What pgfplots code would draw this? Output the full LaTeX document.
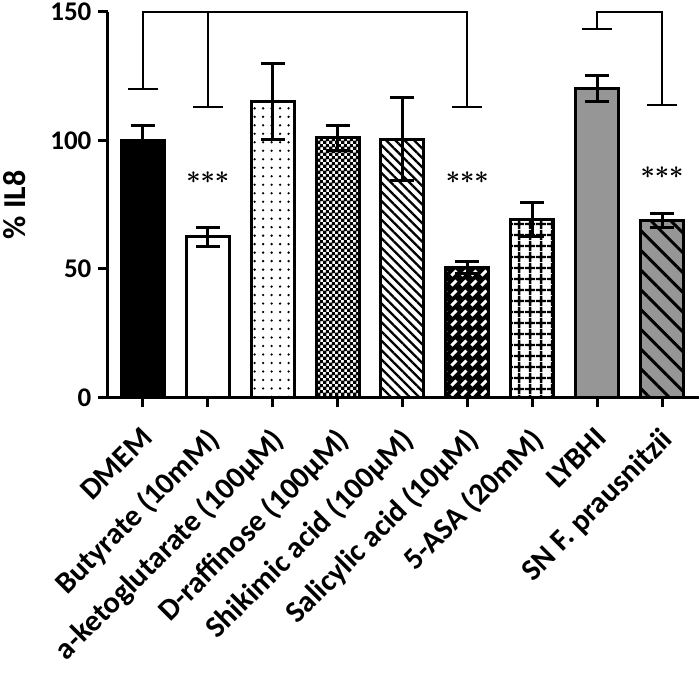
\documentclass[border=0pt]{standalone}
\usepackage{fontspec}
\setmainfont{Carlito}
\usepackage{pgfplots}
\pgfplotsset{compat=1.18}
\usetikzlibrary{patterns,patterns.meta}

\definecolor{barGray}{RGB}{150,150,150}

% small checkerboard for D-raffinose
\pgfdeclarepatternformonly{fineChecker}{\pgfqpoint{0pt}{0pt}}{\pgfqpoint{6pt}{6pt}}{\pgfqpoint{6pt}{6pt}}{%
  \pgfpathrectangle{\pgfqpoint{0pt}{0pt}}{\pgfqpoint{3.3pt}{3.3pt}}%
  \pgfpathrectangle{\pgfqpoint{3pt}{3pt}}{\pgfqpoint{3.3pt}{3.3pt}}%
  \pgfusepath{fill}}
% open grid for 5-ASA
\pgfdeclarepatternformonly{wideGrid}{\pgfqpoint{0pt}{0pt}}{\pgfqpoint{10.5pt}{10.5pt}}{\pgfqpoint{10.5pt}{10.5pt}}{%
  \pgfsetlinewidth{2.5pt}%
  \pgfpathmoveto{\pgfqpoint{5.25pt}{0pt}}\pgfpathlineto{\pgfqpoint{5.25pt}{10.5pt}}%
  \pgfpathmoveto{\pgfqpoint{0pt}{5.25pt}}\pgfpathlineto{\pgfqpoint{10.5pt}{5.25pt}}%
  \pgfusepath{stroke}}
% short diagonal dashes for salicylic acid
\pgfdeclarepatternformonly{diagDash}{\pgfqpoint{0pt}{0pt}}{\pgfqpoint{10pt}{10pt}}{\pgfqpoint{10pt}{10pt}}{%
  \pgfsetlinewidth{3pt}%
  \pgfpathmoveto{\pgfqpoint{2.5pt}{2.5pt}}\pgfpathlineto{\pgfqpoint{7.5pt}{7.5pt}}%
  \pgfusepath{stroke}}

\pgfplotsset{
  igbar/.style={ybar, bar width=43pt, bar shift=0pt, draw=black, line width=3pt,
    error bars/y dir=both, error bars/y explicit,
    error bars/error bar style={line width=3pt, black},
    error bars/error mark options={rotate=90, mark size=12pt, line width=3pt, black}},
}

\newcommand{\stars}{\fontsize{25}{28}\selectfont\boldmath}

\begin{document}
\begin{tikzpicture}
\begin{axis}[
    name=ax,
    scale only axis,
    width=592pt, height=386pt,
    xmin=-0.54, xmax=8.57,
    ymin=0, ymax=150,
    axis x line*=bottom, axis y line*=left,
    axis line style={line width=3pt},
    every tick/.style={black, line width=3pt},
    major tick length=10pt,
    tick align=outside,
    xtick={0,...,8},
    xticklabels={DMEM, Butyrate (10mM), a-ketoglutarate (100µM), D-raffinose (100µM),
      Shikimic acid (100µM), Salicylic acid (10µM), 5-ASA (20mM), LYBHI, SN F. prausnitzii},
    ytick={0,50,100,150},
    xticklabel style={font=\bfseries\fontsize{30.5}{35}\selectfont,
      xshift=-3pt, yshift=-17pt, rotate=45, anchor=north east, inner sep=1pt},
    yticklabel style={font=\bfseries\fontsize{27}{30}\selectfont, xshift=-3pt},
    ylabel={\% IL8},
    ylabel style={font=\bfseries\fontsize{32}{36}\selectfont},
    ylabel shift=18pt,
    /pgf/number format/assume math mode=true,
    clip=false,
]
% DMEM
\addplot[igbar, fill=black] coordinates {(0,100) +- (0,6)};
% Butyrate
\addplot[igbar, fill=white] coordinates {(1,62.5) +- (0,3.6)};
% a-ketoglutarate
\addplot[igbar, pattern={Dots[distance=8.5pt, radius=1.3pt]}] coordinates {(2,115.2) +- (0,14.8)};
% D-raffinose
\addplot[igbar, pattern=fineChecker] coordinates {(3,101) +- (0,4.8)};
% Shikimic acid
\addplot[igbar, pattern={Lines[angle=-45, distance=6.6pt, line width=2.3pt]}] coordinates {(4,100.5) +- (0,16.2)};
% Salicylic acid
\addplot[igbar, preaction={fill=black}, pattern=diagDash, pattern color=white] coordinates {(5,50.7) +- (0,2.3)};
% 5-ASA
\addplot[igbar, pattern=wideGrid] coordinates {(6,69.2) +- (0,6.7)};
% LYBHI
\addplot[igbar, fill=barGray] coordinates {(7,120.2) +- (0,5.1)};
% SN F. prausnitzii
\addplot[igbar, preaction={fill=barGray}, pattern={Lines[angle=-45, distance=14pt, line width=3pt]}, pattern color=black] coordinates {(8,68.8) +- (0,2.6)};

% significance brackets
\addplot[black, line width=2pt, mark=none, unbounded coords=jump, forget plot] coordinates {
    (0,120) (0,150) (5,150) (5,113.2) (nan,nan)
    (1,150) (1,113.2) (nan,nan)
    (-0.23,120) (0.23,120) (nan,nan)
    (0.77,113.2) (1.23,113.2) (nan,nan)
    (4.77,113.2) (5.23,113.2) (nan,nan)
    (7,143.3) (7,150) (8,150) (8,113.7) (nan,nan)
    (6.77,143.3) (7.23,143.3) (nan,nan)
    (7.77,113.7) (8.23,113.7)
};
\node[font=\stars] at (axis cs:1,85.5) {${\ast}{\ast}{\ast}$};
\node[font=\stars] at (axis cs:5,85.5) {${\ast}{\ast}{\ast}$};
\node[font=\stars] at (axis cs:8,87.5) {${\ast}{\ast}{\ast}$};
\end{axis}
\pgfresetboundingbox
\path[use as bounding box] ([xshift=-108pt,yshift=-280pt]ax.south west)
    rectangle ([xshift=1pt,yshift=12pt]ax.north east);
\end{tikzpicture}
\end{document}
